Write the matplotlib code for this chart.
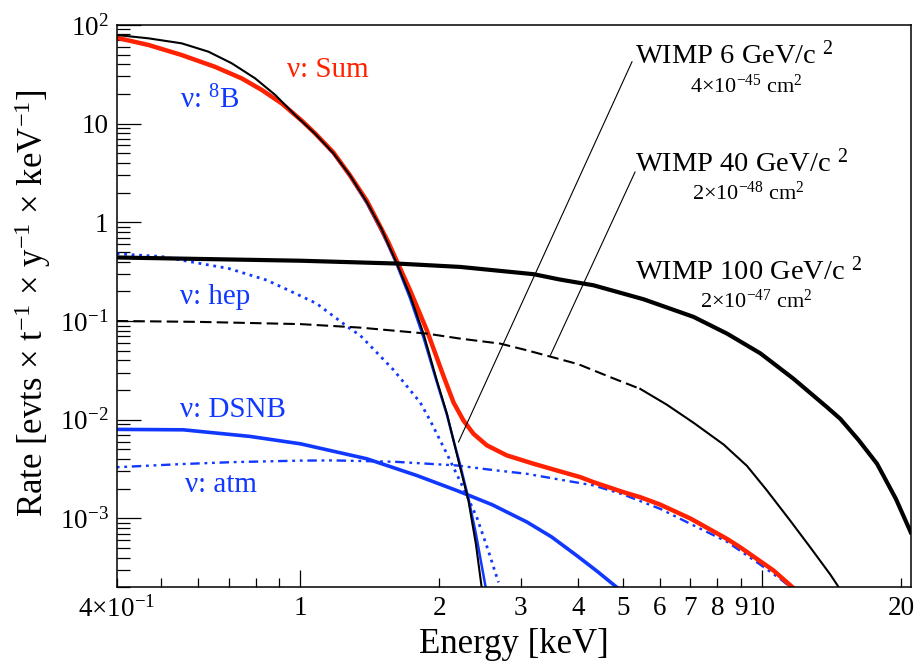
import matplotlib
matplotlib.use("Agg")
import matplotlib.pyplot as plt
from matplotlib.ticker import NullFormatter

plt.rcParams['font.family'] = ['Liberation Serif', 'DejaVu Serif']
plt.rcParams['mathtext.fontset'] = 'custom'
plt.rcParams['mathtext.rm'] = 'Liberation Serif'
plt.rcParams['mathtext.it'] = 'Liberation Serif:italic'

BLUE = '#1038ff'
RED = '#ff2200'

# neutrino backgrounds
e_8b = [0.4, 0.469, 0.553, 0.653, 0.746, 0.825, 0.911, 1.007, 1.076, 1.179,
        1.28, 1.393, 1.5, 1.55, 1.618, 1.728, 1.848, 1.975, 2.077, 2.146,
        2.218, 2.312, 2.40, 2.52]
r_8b = [73.5, 62, 49, 37.2, 28.4, 21.6, 15.8, 10.5, 7.8, 4.95,
        2.9, 1.55, 0.8, 0.58, 0.37, 0.17, 0.068, 0.024, 0.0112, 6.2e-3,
        3.5e-3, 1.6e-3, 7e-4, 2e-4]

e_hep = [0.4, 0.5, 0.558, 0.7, 0.846, 1.0, 1.085, 1.281, 1.347, 1.591,
         1.817, 1.911, 2.077, 2.25, 2.41, 2.55, 2.686]
r_hep = [0.48, 0.45, 0.41, 0.34, 0.259, 0.18, 0.15, 0.0837, 0.0716, 0.032,
         0.0150, 9.8e-3, 4.5e-3, 2.07e-3, 1.03e-3, 4.8e-4, 2.25e-4]

e_dsnb = [0.4, 0.558, 0.778, 1.0, 1.393, 1.788, 2.18, 2.6, 3.095, 3.5,
          3.97, 4.4, 4.85]
r_dsnb = [7.98e-3, 7.9e-3, 6.77e-3, 5.7e-3, 4.02e-3, 2.72e-3, 1.92e-3,
          1.38e-3, 9.2e-4, 6.5e-4, 4.2e-4, 2.9e-4, 2e-4]

e_atm = [0.4, 0.55, 0.716, 1.0, 1.179, 1.6, 2.18, 2.6, 3.095, 3.6, 4.315,
         5.0, 6.02, 7.0, 8.4, 9.92, 11.0, 11.7]
r_atm = [3.3e-3, 3.55e-3, 3.72e-3, 3.85e-3, 3.87e-3, 3.75e-3, 3.44e-3,
         3.1e-3, 2.83e-3, 2.5e-3, 2.16e-3, 1.75e-3, 1.25e-3, 8.8e-4,
         5.8e-4, 3.4e-4, 2.4e-4, 1.9e-4]

e_sum = [0.4, 0.469, 0.553, 0.653, 0.746, 0.825, 0.911, 1.007, 1.076, 1.179,
         1.28, 1.393, 1.5, 1.55, 1.728, 1.879, 2.04, 2.146, 2.256,
         2.371, 2.535, 2.8, 3.2, 3.595, 4.04, 4.315, 5.0, 5.45, 6.02, 6.99,
         8.4, 8.97, 10.6, 11.8]
r_sum = [74, 62.5, 49.5, 37.6, 28.7, 21.9, 16.0, 10.7, 7.96, 5.1,
         3.0, 1.65, 0.85, 0.63, 0.205, 0.0805, 0.028, 0.0150, 9.8e-3,
         7.2e-3, 5.5e-3, 4.35e-3, 3.58e-3, 3.06e-3, 2.62e-3, 2.33e-3,
         1.85e-3, 1.64e-3, 1.38e-3, 1.0e-3, 6.2e-4, 5.1e-4, 2.96e-4, 1.9e-4]

# WIMP spectra
e_w6 = [0.4, 0.469, 0.553, 0.632, 0.71, 0.798, 0.882, 0.974, 1.076, 1.179,
        1.28, 1.393, 1.5, 1.55, 1.618, 1.728, 1.848, 1.975, 2.077, 2.146,
        2.218, 2.312, 2.40, 2.47]
r_w6 = [79, 73, 65, 53.5, 40.8, 28.7, 19.5, 12.2, 7.9, 5.0,
        3.0, 1.6, 0.85, 0.6, 0.382, 0.182, 0.0745, 0.025, 0.0115, 6.17e-3,
        3.3e-3, 1.52e-3, 5.5e-4, 2e-4]

e_w40 = [0.4, 0.6, 1.0, 1.347, 1.879, 2.22, 2.71, 3.095, 3.65, 4.0, 4.69,
         5.45, 6.22, 7.11, 8.26, 9.28, 10.25, 11.51, 12.72, 14.06, 14.78]
r_w40 = [0.1, 0.098, 0.093, 0.0857, 0.0745, 0.0663, 0.059, 0.0505, 0.041,
         0.0365, 0.027, 0.0205, 0.0142, 9.3e-3, 5.6e-3, 3.4e-3, 1.92e-3,
         9.5e-4, 5.1e-4, 2.7e-4, 1.9e-4]
W40_DASH_END = 5.3   # dashed below this energy, solid above

e_w100 = [0.4, 1.0, 1.618, 2.22, 3.2, 3.65, 4.315, 5.54, 7.11, 8.4, 9.92,
          11.7, 13.83, 14.78, 16.2, 17.75, 19.5, 21.0]
r_w100 = [0.44, 0.408, 0.382, 0.353, 0.298, 0.263, 0.23, 0.166, 0.11,
          0.0745, 0.047, 0.026, 0.0134, 0.0102, 6.2e-3, 3.58e-3, 1.58e-3,
          7.24e-4]

xmaj = [1, 10]
xmin_pos = [0.4, 0.5, 0.6, 0.7, 0.8, 0.9, 2, 3, 4, 5, 6, 7, 8, 9, 20]
xmin_lab = ['4×10$^{-1}$', '', '', '', '', '', '2', '3', '4', '5', '6', '7',
            '8', '9', '20']
ymaj = [1e-3, 1e-2, 1e-1, 1, 10, 100]
ymaj_lab = ['10$^{-3}$', '10$^{-2}$', '10$^{-1}$', '1', '10', '10$^{2}$']

fig = plt.figure(figsize=(9.19, 6.63), dpi=100)
ax = fig.add_axes([0.127, 0.114, 0.864, 0.8485])
ax.set_xscale('log')
ax.set_yscale('log')

# blue neutrino components
ax.plot(e_8b, r_8b, color=BLUE, lw=1.8)
ax.plot(e_hep, r_hep, color=BLUE, lw=2.0, linestyle=(0, (1, 1.7)))
ax.plot(e_dsnb, r_dsnb, color=BLUE, lw=2.6)
ax.plot(e_atm, r_atm, color=BLUE, lw=1.7,
        linestyle=(0, (1.2, 2.0, 1.2, 2.0, 4.0, 2.0)))
# sum
ax.plot(e_sum, r_sum, color=RED, lw=3.2)

# WIMPs
ax.plot(e_w6, r_w6, color='black', lw=1.5)
n_d = sum(1 for e in e_w40 if e <= W40_DASH_END)
ax.plot(e_w40[:n_d + 1], r_w40[:n_d + 1], color='black', lw=1.5,
        linestyle=(0, (5.5, 2.5)))
ax.plot(e_w40[n_d:], r_w40[n_d:], color='black', lw=1.5)
ax.plot(e_w100, r_w100, color='black', lw=3.0)

ax.set_xlim(0.4, 21)
ax.set_ylim(2e-4, 100)

ax.set_xticks(xmaj, ['1', '10'])
ax.set_xticks(xmin_pos, xmin_lab, minor=True)
ax.set_yticks(ymaj, ymaj_lab)
ax.set_yticks([m * 10.0**d for d in range(-4, 2) for m in range(2, 10)
               if 2e-4 <= m * 10.0**d <= 100], minor=True)
ax.yaxis.set_minor_formatter(NullFormatter())
ax.tick_params(axis='both', which='both', direction='in', width=0.9,
               labelsize=19.5, top=False, right=False)
ax.tick_params(axis='x', which='major', length=12.5, pad=6)
ax.tick_params(axis='x', which='minor', length=6.5, pad=6)
ax.tick_params(axis='y', which='major', length=17, pad=6)
ax.tick_params(axis='y', which='minor', length=9, pad=6)
for s in ax.spines.values():
    s.set_linewidth(1.1)

ax.set_xlabel('Energy [keV]', fontsize=25)
ax.xaxis.set_label_coords(0.5, -0.072)
ax.set_ylabel('Rate [evts × t$^{-1}$ × y$^{-1}$ × keV$^{-1}$]', fontsize=25)
ax.yaxis.set_label_coords(-0.08, 0.505)

# labels
lab_kw = dict(fontsize=21, transform=ax.transAxes, va='baseline')
ax.text(0.2145, 0.9074, 'ν: Sum', color=RED, **lab_kw)
ax.text(0.0797, 0.8522, 'ν: ${}^{8}$B', color=BLUE, **lab_kw)
ax.text(0.0797, 0.5037, 'ν: hep', color=BLUE, **lab_kw)
ax.text(0.0797, 0.3028, 'ν: DSNB', color=BLUE, **lab_kw)
ax.text(0.086, 0.1695, 'ν: atm', color=BLUE, **lab_kw)

wimp_labels = [('WIMP 6 GeV/c ${}^{2}$', '4×10$^{-45}$ cm$^{2}$', 0.932, 0.879, 0.793),
               ('WIMP 40 GeV/c ${}^{2}$', '2×10$^{-48}$ cm$^{2}$', 0.7384, 0.6887, 0.7957),
               ('WIMP 100 GeV/c ${}^{2}$', '2×10$^{-47}$ cm$^{2}$', 0.5464, 0.4966, 0.805)]
for title, xs, ty, sy, sx in wimp_labels:
    ax.text(0.6527, ty, title, fontsize=20.5, transform=ax.transAxes,
            va='baseline')
    ax.text(sx, sy, xs, fontsize=16, transform=ax.transAxes,
            va='baseline', ha='center')

# leader lines from labels to curves
ax.annotate('', xy=(2.2, 5.93e-3), xytext=(5.23, 42.4),
            arrowprops=dict(arrowstyle='-', lw=0.8, color='black',
                            shrinkA=0, shrinkB=0))
ax.annotate('', xy=(3.48, 0.0449), xytext=(5.31, 3.24),
            arrowprops=dict(arrowstyle='-', lw=0.8, color='black',
                            shrinkA=0, shrinkB=0))

fig.savefig('out.png', dpi=100)
